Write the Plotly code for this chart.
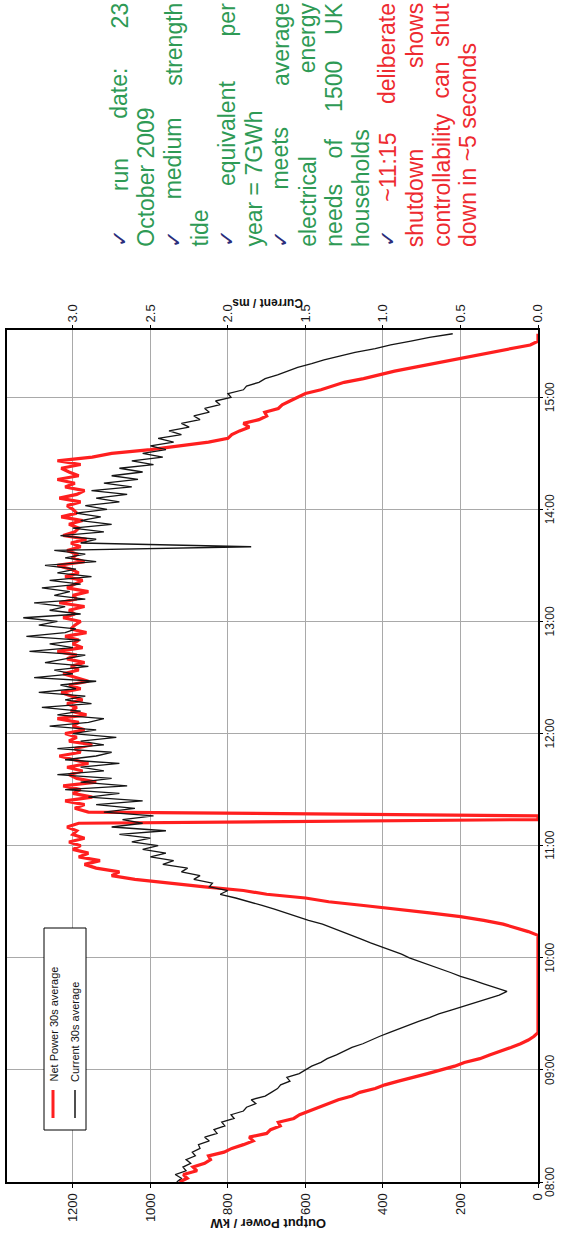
import plotly.graph_objects as go
import pandas as pd

# ---------------- data ----------------
START = "2009-10-23 08:00"
STEP_MIN = 2

net_power_kw = [
    925, 905, 915, 880, 890, 860, 845, 850, 810, 790,
    760, 735, 745, 700, 690, 665, 670, 630, 615, 590,
    565, 540, 515, 480, 460, 420, 395, 360, 320, 285,
    250, 215, 190, 150, 125, 95, 70, 45, 25, 10,
    0, 0, 0, 0, 0, 0, 0, 0, 0, 0,
    0, 0, 0, 0, 0, 0, 0, 0, 0, 0,
    0, 0, 0, 0, 0, 0, 0, 25, 55, 90,
    140, 200, 280, 360, 450, 540, 600, 700, 760, 860,
    950, 1040, 1100, 1080, 1140, 1170, 1130, 1185, 1160, 1200,
    1180, 1210, 1170, 1200, 1190, 1215, 1185, 0, 0, 1160,
    1195, 1170, 1220, 1150, 1200, 1180, 1225, 1140, 1190, 1210,
    1175, 1215, 1160, 1200, 1235, 1180, 1195, 1150, 1210, 1190,
    1220, 1170, 1200, 1185, 1240, 1165, 1205, 1190, 1215, 1175,
    1200, 1230, 1180, 1210, 1160, 1195, 1225, 1185, 1205, 1170,
    1215, 1190, 1240, 1175, 1200, 1185, 1220, 1165, 1205, 1195,
    1180, 1225, 1195, 1210, 1170, 1235, 1190, 1200, 1160, 1215,
    1195, 1175, 1220, 1185, 1205, 1240, 1170, 1200, 1190, 1215,
    1180, 1205, 1165, 1225, 1195, 1185, 1210, 1175, 1230, 1190,
    1200, 1215, 1180, 1235, 1190, 1170, 1220, 1195, 1240, 1185,
    1210, 1230, 1180, 1240, 1150, 1100, 1000, 920, 850, 800,
    790, 770, 745, 760, 720, 700, 705, 670, 660, 640,
    620, 600, 560, 530, 500, 450, 410, 370, 320, 270,
    220, 170, 110, 60, 20, 0, 0, 0,
]

current_ms = [
    2.33, 2.30, 2.34, 2.27, 2.29, 2.24, 2.27, 2.21, 2.23, 2.18,
    2.19, 2.12, 2.15, 2.07, 2.09, 2.02, 2.04, 1.96, 1.98, 1.90,
    1.88, 1.82, 1.85, 1.76, 1.72, 1.68, 1.66, 1.60, 1.62, 1.54,
    1.50, 1.46, 1.40, 1.36, 1.30, 1.25, 1.20, 1.13, 1.08, 1.02,
    0.96, 0.90, 0.84, 0.77, 0.70, 0.64, 0.56, 0.48, 0.40, 0.32,
    0.25, 0.20, 0.28, 0.35, 0.42, 0.50, 0.56, 0.63, 0.70, 0.76,
    0.83, 0.88, 0.95, 1.02, 1.08, 1.14, 1.20, 1.26, 1.33, 1.39,
    1.48, 1.55, 1.62, 1.70, 1.78, 1.86, 1.95, 2.05, 2.00, 2.12,
    2.10, 2.22, 2.18, 2.30, 2.26, 2.42, 2.35, 2.50, 2.40, 2.55,
    2.45, 2.62, 2.50, 2.70, 2.40, 2.75, 2.55, 2.68, 2.48, 2.80,
    2.60, 2.85, 2.55, 2.90, 2.70, 3.05, 2.65, 2.95, 2.75, 3.10,
    2.80, 2.95, 2.70, 3.05, 2.85, 2.75, 3.10, 2.80, 2.95, 2.72,
    3.00, 2.85, 3.15, 2.90, 2.80, 3.10, 2.95, 3.20, 2.88, 3.05,
    2.92, 3.22, 2.98, 3.08, 2.85, 3.25, 3.00, 3.12, 2.90, 3.18,
    3.05, 2.92, 3.28, 3.00, 3.15, 2.95, 3.30, 3.05, 2.98, 3.22,
    3.10, 3.32, 2.95, 3.15, 3.05, 3.25, 2.92, 3.12, 3.02, 3.20,
    2.95, 3.15, 2.88, 3.10, 2.98, 3.18, 2.85, 3.05, 2.92, 3.12,
    1.85, 2.95, 2.85, 3.08, 2.80, 3.00, 2.75, 2.95, 2.82, 2.98,
    2.78, 2.92, 2.70, 2.85, 2.65, 2.88, 2.62, 2.80, 2.58, 2.75,
    2.55, 2.70, 2.48, 2.62, 2.42, 2.55, 2.40, 2.50, 2.35, 2.45,
    2.30, 2.38, 2.25, 2.30, 2.18, 2.22, 2.12, 2.15, 2.05, 2.08,
    1.98, 2.00, 1.90, 1.88, 1.80, 1.76, 1.68, 1.62, 1.55, 1.46,
    1.38, 1.28, 1.18, 1.05, 0.95, 0.82, 0.70, 0.55,
]

power_ticks = [0, 200, 400, 600, 800, 1000, 1200]
current_ticks = [0.0, 0.5, 1.0, 1.5, 2.0, 2.5, 3.0]
current_tick_labels = ["0.0", "0.5", "1.0", "1.5", "2.0", "2.5", "3.0"]
time_tick_labels = ["08:00", "09:00", "10:00", "11:00", "12:00", "13:00", "14:00", "15:00"]
time_axis_range = ["2009-10-23 08:00", "2009-10-23 15:36"]
DAY = "2009-10-23"
power_axis_max = 1370
kw_per_ms = 400

legend_labels = ["Net Power 30s average", "Current 30s average"]
power_title = "Output Power / kW"
current_title = "Current / ms"

# bullet text: (has tick, text, justified, colour key)
notes = [
    (True, "run date: 23", True, "g"),
    (False, "October 2009", False, "g"),
    (True, "medium strength", True, "g"),
    (False, "tide", False, "g"),
    (True, "equivalent per", True, "g"),
    (False, "year = 7GWh", False, "g"),
    (True, "meets average", True, "g"),
    (False, "electrical energy", True, "g"),
    (False, "needs of 1500 UK", True, "g"),
    (False, "households", False, "g"),
    (True, "~11:15 deliberate", True, "r"),
    (False, "shutdown shows", True, "r"),
    (False, "controllability can shut", True, "r"),
    (False, "down in ~5 seconds", False, "r"),
]

# ---------------- figure ----------------
times = pd.date_range(START, periods=len(net_power_kw), freq=f"{STEP_MIN}min")
hour_ticks = [f"{DAY} {lab}" for lab in time_tick_labels]

W, H = 562, 1246
ML, MR, MT, MB = 7, 24, 330, 64
PW, PH = W - ML - MR, H - MT - MB


def fx(px):
    return (px - ML) / PW


def fy(py):
    return (H - MB - py) / PH


FONT = "Arial, Liberation Sans, sans-serif"
RED = "#ff1f1f"

fig = go.Figure()
fig.add_trace(go.Scatter(x=net_power_kw, y=times, mode="lines",
                         line=dict(color=RED, width=3.2),
                         xaxis="x", yaxis="y", name=legend_labels[0]))
fig.add_trace(go.Scatter(x=current_ms, y=times, mode="lines",
                         line=dict(color="#151515", width=1.3),
                         xaxis="x2", yaxis="y", name=legend_labels[1]))

tick_font = dict(family=FONT, size=13, color="#1a1a1a")
grid = "#a9a9a9"

fig.update_layout(
    width=W, height=H,
    margin=dict(l=ML, r=MR, t=MT, b=MB, pad=0, autoexpand=False),
    paper_bgcolor="white", plot_bgcolor="white", showlegend=False,
    xaxis=dict(range=[power_axis_max, 0], tickvals=power_ticks, tickangle=-90,
               tickfont=tick_font, showgrid=True, gridcolor=grid, gridwidth=1,
               zeroline=False, showline=True, linecolor="black", linewidth=2,
               mirror=True, ticks="outside", ticklen=4, tickcolor="black",
               automargin=False),
    xaxis2=dict(overlaying="x", side="top", range=[power_axis_max / kw_per_ms, 0],
                tickvals=current_ticks, ticktext=current_tick_labels, tickangle=-90,
                tickfont=tick_font, showgrid=False, zeroline=False, showline=False,
                ticks="outside", ticklen=4, tickcolor="black", automargin=False),
    yaxis=dict(type="date", range=time_axis_range, side="right",
               tickvals=hour_ticks, showticklabels=False,
               showgrid=True, gridcolor=grid, gridwidth=1, zeroline=False,
               showline=True, linecolor="black", linewidth=2, mirror=True,
               ticks="outside", ticklen=3, tickcolor="black", automargin=False),
)

ann = []
shapes = []

# time labels along the right edge (rotated like the slide)
for tv, lab in zip(hour_ticks, time_tick_labels):
    ann.append(dict(text=lab, x=fx(550), y=tv, xref="paper", yref="y",
                    xanchor="center", yanchor="middle", showarrow=False, textangle=-90,
                    font=dict(family=FONT, size=12, color="#1a1a1a")))

# axis titles (upside-down, as in the rotated slide)
ann.append(dict(text=f"<b>{power_title}</b>", x=fx(268), y=fy(1233), xref="paper", yref="paper",
                showarrow=False, textangle=180, font=dict(family=FONT, size=13, color="#111")))
ann.append(dict(text=f"<b>{current_title}</b>", x=fx(268), y=fy(294), xref="paper", yref="paper",
                showarrow=False, textangle=180, font=dict(family=FONT, size=12, color="#111")))

# legend box
shapes.append(dict(type="rect", xref="paper", yref="paper", x0=fx(44), x1=fx(86),
                   y0=fy(1130), y1=fy(928), line=dict(color="black", width=1),
                   fillcolor="white", layer="above"))
shapes.append(dict(type="line", xref="paper", yref="paper", x0=fx(53), x1=fx(53),
                   y0=fy(1118), y1=fy(1090), line=dict(color=RED, width=3)))
shapes.append(dict(type="line", xref="paper", yref="paper", x0=fx(75), x1=fx(75),
                   y0=fy(1118), y1=fy(1090), line=dict(color="#151515", width=1.5)))
for lx, lab in zip([53, 75], legend_labels):
    ann.append(dict(text=lab, x=fx(lx), y=fy(1084), xref="paper", yref="paper",
                    xanchor="center", yanchor="bottom", showarrow=False, textangle=-90,
                    font=dict(family=FONT, size=11, color="#111")))

# ---- notes text block (rotated, justified) ----
EM = {}
for ch in "abdeghnopqu0123456789":
    EM[ch] = 0.556
for ch in "ckvxyzs":
    EM[ch] = 0.5
EM.update({"f": 0.278, "j": 0.222, "t": 0.278, "i": 0.222, "l": 0.222, "m": 0.833,
           "r": 0.333, "w": 0.722, " ": 0.278, ":": 0.278, ".": 0.278, "=": 0.584,
           "~": 0.584, "/": 0.278, "O": 0.778, "C": 0.722, "U": 0.722, "K": 0.667,
           "G": 0.778, "W": 0.944, "H": 0.722, "✓": 0.8})


def tw(s, fs):
    return sum(EM.get(c, 0.667) for c in s) * fs


FS = 23
TICK_FS = 21
COLORS = {"g": "#2e9a55", "r": "#ee2a30"}
TICK_COLOR = "#2b2d7a"
Y_BOTTOM, Y_TOP = 247, 3
col_x = [468 - (len(notes) - 1 - i) * 26.8 for i in range(len(notes))]

for i, (has_tick, text, justify, ck) in enumerate(notes):
    x = col_x[i]
    tokens = []
    if has_tick:
        tokens.append(("✓", TICK_FS, TICK_COLOR))
    if justify:
        tokens += [(w, FS, COLORS[ck]) for w in text.split(" ")]
    else:
        tokens.append((text, FS, COLORS[ck]))
    widths = [tw(t, fs) for t, fs, _ in tokens]
    if justify and len(tokens) > 1:
        gap = (Y_BOTTOM - Y_TOP - sum(widths)) / (len(tokens) - 1)
    else:
        gap = 0.278 * FS
    pos = Y_BOTTOM
    for (t, fs, col), w in zip(tokens, widths):
        ann.append(dict(text=t, x=fx(x), y=fy(pos - w / 2), xref="paper", yref="paper",
                        xanchor="center", yanchor="middle", showarrow=False, textangle=-90,
                        font=dict(family=FONT, size=fs, color=col)))
        pos -= w + gap

fig.update_layout(annotations=ann, shapes=shapes)
fig.write_html("out.html", config={"displayModeBar": False},
               post_script="document.body.style.margin='0';document.body.style.overflow='hidden';")
